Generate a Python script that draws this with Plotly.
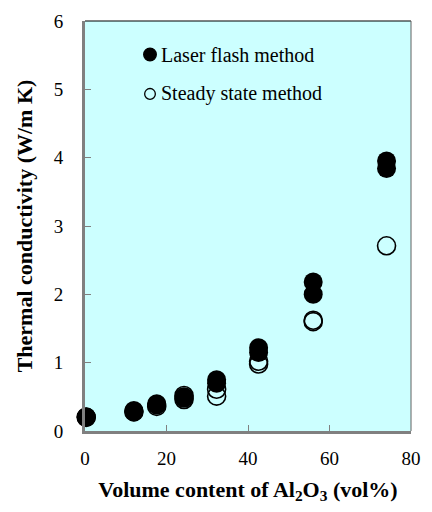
import plotly.graph_objects as go

# Measured thermal conductivity versus Al2O3 volume fraction
laser_x = [0.3, 0.3, 12, 12, 17.6, 17.6, 24.3, 24.3, 32.3, 32.3, 42.6, 42.6, 56, 56, 74, 74]
laser_k = [0.21, 0.20, 0.30, 0.28, 0.38, 0.40, 0.50, 0.48, 0.75, 0.70, 1.22, 1.15, 2.18, 2.00, 3.95, 3.84]

steady_x = [0.3, 12, 17.6, 24.3, 24.3, 32.3, 32.3, 42.6, 42.6, 56, 56, 74]
steady_k = [0.20, 0.28, 0.36, 0.52, 0.46, 0.61, 0.51, 1.02, 0.98, 1.62, 1.60, 2.71]

legend_labels = ["Laser flash method", "Steady state method"]

x_ticks = [0, 20, 40, 60, 80]
y_ticks = [0, 1, 2, 3, 4, 5, 6]

SERIF = "Times New Roman, Liberation Serif, serif"
AXIS_GRAY = "#808080"

fig = go.Figure()

# Open circles first so the filled ones sit on top where they overlap
fig.add_trace(go.Scatter(
    x=steady_x, y=steady_k, mode="markers", name=legend_labels[1],
    marker=dict(symbol="circle-open", size=18, color="black", line=dict(width=1.6)),
    cliponaxis=False, showlegend=False,
))
fig.add_trace(go.Scatter(
    x=laser_x, y=laser_k, mode="markers", name=legend_labels[0],
    marker=dict(symbol="circle", size=19, color="black"),
    cliponaxis=False, showlegend=False,
))

# Legend glyphs and labels placed in paper space
legend_rows = [(49, True), (89, False)]
W, H = 432, 512
L, R, T, B = 85, 11, 15, 81
pw, ph = W - L - R, H - T - B


def px_to_paper(px, py):
    return (px - L) / pw, 1 - (py - T) / ph


for (py, filled), label in zip(legend_rows, legend_labels):
    cx, cy = px_to_paper(152, py)
    r = 6.5 if filled else 5.5
    rx, ry = r / pw, r / ph
    fig.add_shape(type="circle", xref="paper", yref="paper",
                  x0=cx - rx, x1=cx + rx, y0=cy - ry, y1=cy + ry,
                  fillcolor="black" if filled else "rgba(0,0,0,0)",
                  line=dict(color="black", width=1.3))
    tx, ty = px_to_paper(161, py)
    fig.add_annotation(x=tx, y=ty, xref="paper", yref="paper", text=label,
                       showarrow=False, xanchor="left", yanchor="middle",
                       font=dict(family=SERIF, size=20, color="black"))

# Thin top and right frame lines
fig.add_shape(type="line", xref="paper", yref="paper", x0=0, x1=1, y0=1, y1=1,
              line=dict(color="black", width=1))
fig.add_shape(type="line", xref="paper", yref="paper", x0=1, x1=1, y0=0, y1=1,
              line=dict(color="#606060", width=1))

fig.update_layout(
    width=W, height=H,
    margin=dict(l=L, r=R, t=T, b=B),
    paper_bgcolor="white",
    plot_bgcolor="#CCFFFF",
    font=dict(family=SERIF, color="black", size=17),
    xaxis=dict(
        range=[0, 80], tickvals=x_ticks, showgrid=False, zeroline=False,
        showline=True, linecolor=AXIS_GRAY, linewidth=3,
        ticks="inside", ticklen=6, tickcolor=AXIS_GRAY, tickwidth=1,
        tickfont=dict(family=SERIF, size=19), ticklabelstandoff=8,
        title=dict(text="<b>Volume content of Al<sub>2</sub>O<sub>3</sub> (vol%)</b>",
                   font=dict(family=SERIF, size=22), standoff=14),
    ),
    yaxis=dict(
        range=[0, 6], tickvals=y_ticks, showgrid=False, zeroline=False,
        showline=True, linecolor=AXIS_GRAY, linewidth=3,
        ticks="inside", ticklen=6, tickcolor=AXIS_GRAY, tickwidth=1,
        tickfont=dict(family=SERIF, size=19), ticklabelstandoff=15,
        title=dict(text="<b>Thermal conductivity (W/m K)</b>",
                   font=dict(family=SERIF, size=22), standoff=16),
    ),
)

fig.write_html("out.html")
